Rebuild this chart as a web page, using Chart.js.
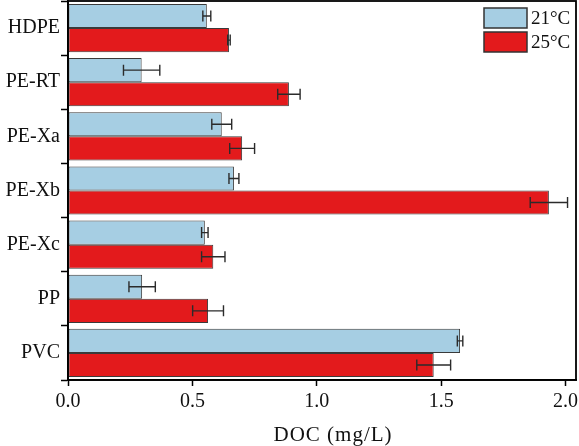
<!DOCTYPE html>
<html>
<head>
<meta charset="utf-8">
<script src="https://cdn.jsdelivr.net/npm/chart.js@4/dist/chart.umd.min.js"></script>
<style>
html,body{margin:0;padding:0;background:#fff;}
#wrap{width:579px;height:446px;}
</style>
</head>
<body>
<div id="wrap"><canvas id="c" width="579" height="446"></canvas></div>
<script>
const categories = ['HDPE','PE-RT','PE-Xa','PE-Xb','PE-Xc','PP','PVC'];
const seriesNames = ['21\u00B0C','25\u00B0C'];
const doc21 = [0.558, 0.296, 0.618, 0.667, 0.550, 0.298, 1.576];
const err21 = [0.016, 0.073, 0.040, 0.020, 0.013, 0.053, 0.011];
const doc25 = [0.647, 0.888, 0.700, 1.933, 0.584, 0.563, 1.470];
const err25 = [0.005, 0.045, 0.050, 0.075, 0.047, 0.062, 0.068];
const xTicks = [0, 0.5, 1.0, 1.5, 2.0];
const xTitle = 'DOC (mg/L)';

const FONT = '"Liberation Serif", "Times New Roman", serif';
const errs = [err21, err25];

const errorBarPlugin = {
  id: 'errbars',
  afterDatasetsDraw(chart) {
    const ctx = chart.ctx;
    const xs = chart.scales.x;
    ctx.save();
    ctx.strokeStyle = '#2b2b2b';
    ctx.lineWidth = 1.4;
    chart.data.datasets.forEach((ds, di) => {
      const meta = chart.getDatasetMeta(di);
      meta.data.forEach((bar, i) => {
        const v = ds.data[i], e = errs[di][i];
        const x1 = xs.getPixelForValue(v - e), x2 = xs.getPixelForValue(v + e);
        const y = bar.y, h = 5.5;
        ctx.beginPath();
        ctx.moveTo(x1, y); ctx.lineTo(x2, y);
        ctx.moveTo(x1, y - h); ctx.lineTo(x1, y + h);
        ctx.moveTo(x2, y - h); ctx.lineTo(x2, y + h);
        ctx.stroke();
      });
    });
    ctx.restore();
  }
};

const framePlugin = {
  id: 'frame',
  afterDraw(chart) {
    const ctx = chart.ctx, a = chart.chartArea;
    ctx.save();
    ctx.strokeStyle = '#000';
    ctx.lineWidth = 1.8;
    ctx.strokeRect(a.left, a.top, a.right - a.left, a.bottom - a.top);
    // legend
    const bw = 43, bh = 20, bx = a.right - 92, by0 = a.top + 7, gap = 24;
    ctx.font = '19px ' + FONT;
    ctx.textBaseline = 'middle';
    ctx.textAlign = 'left';
    chart.data.datasets.forEach((ds, di) => {
      const by = by0 + di * gap;
      ctx.fillStyle = ds.backgroundColor;
      ctx.fillRect(bx, by, bw, bh);
      ctx.lineWidth = 1.5;
      ctx.strokeStyle = '#333';
      ctx.strokeRect(bx, by, bw, bh);
      ctx.fillStyle = '#111';
      ctx.fillText(ds.label, bx + bw + 4, by + bh / 2 + 1);
    });
    // x axis title
    ctx.font = '21px ' + FONT;
    try { ctx.letterSpacing = '1px'; } catch (e) {}
    ctx.textAlign = 'center';
    ctx.textBaseline = 'alphabetic';
    ctx.fillStyle = '#111';
    ctx.fillText(xTitle, (a.left + a.right) / 2 + 11, 441);
    ctx.restore();
  }
};

new Chart(document.getElementById('c'), {
  type: 'bar',
  data: {
    labels: categories,
    datasets: [
      { label: seriesNames[0], data: doc21, backgroundColor: '#a6cee3', borderColor: '#3a3a3a', borderWidth: 1, borderSkipped: false },
      { label: seriesNames[1], data: doc25, backgroundColor: '#e31a1c', borderColor: '#3a3a3a', borderWidth: 1, borderSkipped: false }
    ]
  },
  options: {
    indexAxis: 'y',
    responsive: false,
    animation: false,
    devicePixelRatio: 1,
    layout: { padding: { top: 1, right: 3, left: 0, bottom: 0 } },
    datasets: { bar: { categoryPercentage: 0.89, barPercentage: 1.0 } },
    plugins: { legend: { display: false }, tooltip: { enabled: false } },
    scales: {
      x: {
        min: 0, max: 2.042,
        afterBuildTicks(s) { s.ticks = xTicks.map(v => ({ value: v })); },
        afterFit(s) { s.height = 66; s.paddingLeft = 0; s.paddingRight = 0; },
        grid: { drawOnChartArea: false, drawTicks: true, tickLength: 6, tickColor: '#000', tickWidth: 1.5 },
        border: { display: true, color: '#000', width: 1.8 },
        ticks: { color: '#111', font: { family: FONT, size: 20 }, padding: 4, maxRotation: 0,
          callback: v => Number(v).toFixed(1) },
        title: { display: false }
      },
      y: {
        afterFit(s) { s.width = 68; s.paddingTop = 0; s.paddingBottom = 0; },
        grid: { offset: true, drawOnChartArea: false, drawTicks: true, tickLength: 7, tickColor: '#000', tickWidth: 1.5 },
        border: { display: true, color: '#000', width: 1.8 },
        ticks: { color: '#111', font: { family: FONT, size: 20 }, padding: 1 }
      }
    }
  },
  plugins: [errorBarPlugin, framePlugin]
});
</script>
</body>
</html>
